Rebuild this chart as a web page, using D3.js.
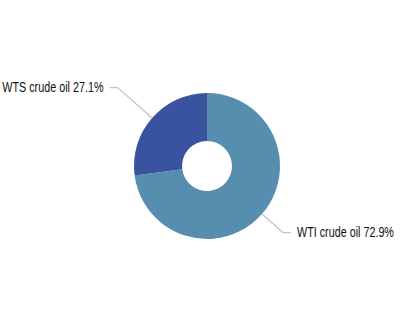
<!DOCTYPE html>
<head>
  <meta charset="utf-8">
  <script src="https://d3js.org/d3.v7.min.js"></script>
  <style>
    body { margin:0; background:#fff; }
    text { font-family: "Liberation Sans", Arial, sans-serif; font-size:14px; fill:#111; }
  </style>
</head>
<body>
<script>
  // data
  var labels = ["WTI crude oil", "WTS crude oil"];
  var values = [72.9, 27.1];
  var colors = ["#578daf", "#39539f"];

  var width = 414, height = 333;
  var cx = 207, cy = 166, outerR = 73, innerR = 25;
  // elbow distance of each leader line
  var elbowR = [101, 119];

  var svg = d3.select("body").append("svg")
    .attr("width", width)
    .attr("height", height);

  var g = svg.append("g").attr("transform", "translate(" + cx + "," + cy + ")");

  var pie = d3.pie().sort(null).value(function(d){ return d; });
  var arcs = pie(values);

  var arc = d3.arc().innerRadius(innerR).outerRadius(outerR);

  g.selectAll("path.slice")
    .data(arcs)
    .enter().append("path")
    .attr("class", "slice")
    .attr("d", arc)
    .attr("fill", function(d, i){ return colors[i]; });

  // leader lines and labels (narrow type, squeezed horizontally)
  arcs.forEach(function(d, i){
    var mid = (d.startAngle + d.endAngle) / 2;
    var sx = Math.sin(mid), sy = -Math.cos(mid);
    var p0 = [sx * outerR, sy * outerR];
    var p1 = [sx * elbowR[i], sy * elbowR[i]];
    var dir = sx >= 0 ? 1 : -1;
    var p2 = [p1[0] + dir * 8, p1[1]];
    g.append("polyline")
      .attr("points", [p0, p1, p2].map(function(p){ return p.join(","); }).join(" "))
      .attr("fill", "none")
      .attr("stroke", "#c4c4c4")
      .attr("stroke-width", 1.3);
    g.append("text")
      .attr("transform", "translate(" + (p2[0] + dir * 6) + "," + p2[1] + ") scale(0.77,1)")
      .attr("dy", "0.35em")
      .attr("text-anchor", dir > 0 ? "start" : "end")
      .text(labels[i] + " " + d3.format(".1f")(values[i]) + "%");
  });
</script>
</body>
